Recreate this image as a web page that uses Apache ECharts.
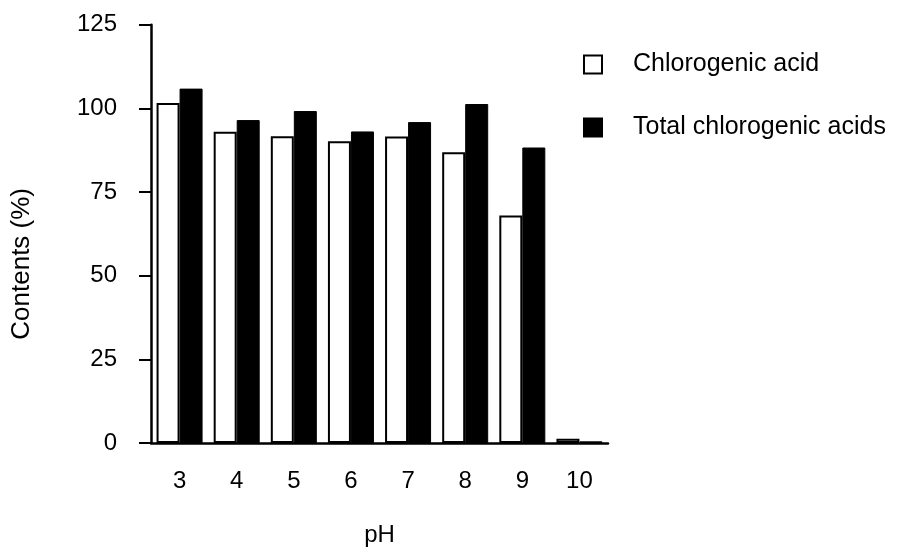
<!DOCTYPE html>
<html>
<head>
<meta charset="utf-8">
<script src="https://cdn.jsdelivr.net/npm/echarts@6/dist/echarts.min.js"></script>
<style>
html,body{margin:0;padding:0;background:#fff;}
#chart{width:903px;height:552px;}
</style>
</head>
<body>
<div id="chart"></div>
<script>
const categories = ['3', '4', '5', '6', '7', '8', '9', '10'];
const chlorogenicAcid = [101.6, 93.0, 91.7, 90.2, 91.6, 86.9, 68.0, 1.3];
const totalChlorogenicAcids = [105.9, 96.5, 99.2, 93.1, 95.9, 101.3, 88.3, 0.5];
const yTicks = [0, 25, 50, 75, 100, 125];

const FONT = 'Liberation Sans, Arial, sans-serif';
const chart = echarts.init(document.getElementById('chart'));
chart.setOption({
  animation: false,
  backgroundColor: '#ffffff',
  textStyle: { fontFamily: FONT, color: '#000' },
  grid: { left: 151, right: 295, top: 24.7, bottom: 104.3, containLabel: false },
  legend: {
    orient: 'vertical',
    left: 583,
    top: 52,
    padding: 0,
    icon: 'rect',
    itemWidth: 18,
    itemHeight: 18,
    itemGap: 38,
    textStyle: { fontFamily: FONT, fontSize: 25, color: '#000', lineHeight: 25, padding: [0, 0, 0, 26] },
    data: ['Chlorogenic acid', 'Total chlorogenic acids']
  },
  xAxis: {
    type: 'category',
    data: categories,
    name: 'pH',
    nameLocation: 'middle',
    nameGap: 80,
    nameTextStyle: { fontFamily: FONT, fontSize: 24, color: '#000' },
    axisLine: { lineStyle: { color: '#000', width: 2.5 } },
    axisTick: { alignWithLabel: true, length: 12, lineStyle: { color: '#000', width: 2 } },
    axisLabel: { margin: 26, fontFamily: FONT, fontSize: 24, color: '#000' },
    splitLine: { show: false }
  },
  yAxis: {
    type: 'value',
    min: 0,
    max: 125,
    interval: 25,
    name: 'Contents (%)',
    nameLocation: 'middle',
    nameGap: 116,
    nameRotate: 90,
    nameTextStyle: { fontFamily: FONT, fontSize: 26, color: '#000', padding: [0, 60, 0, 0] },
    axisLine: { show: true, lineStyle: { color: '#000', width: 2.5 } },
    axisTick: { show: true, length: 12, lineStyle: { color: '#000', width: 2 } },
    axisLabel: {
      margin: 34, fontFamily: FONT, fontSize: 24, color: '#000',
      formatter: function (v) { return yTicks.indexOf(v) >= 0 ? String(v) : ''; }
    },
    splitLine: { show: false }
  },
  series: [
    {
      name: 'Chlorogenic acid',
      type: 'bar',
      data: chlorogenicAcid,
      barWidth: 23,
      barGap: '0%',
      itemStyle: { color: '#ffffff', borderColor: '#000', borderWidth: 2 }
    },
    {
      name: 'Total chlorogenic acids',
      type: 'bar',
      data: totalChlorogenicAcids,
      barWidth: 23,
      barGap: '0%',
      itemStyle: { color: '#000000', borderColor: '#000', borderWidth: 1 }
    }
  ]
});
</script>
</body>
</html>
